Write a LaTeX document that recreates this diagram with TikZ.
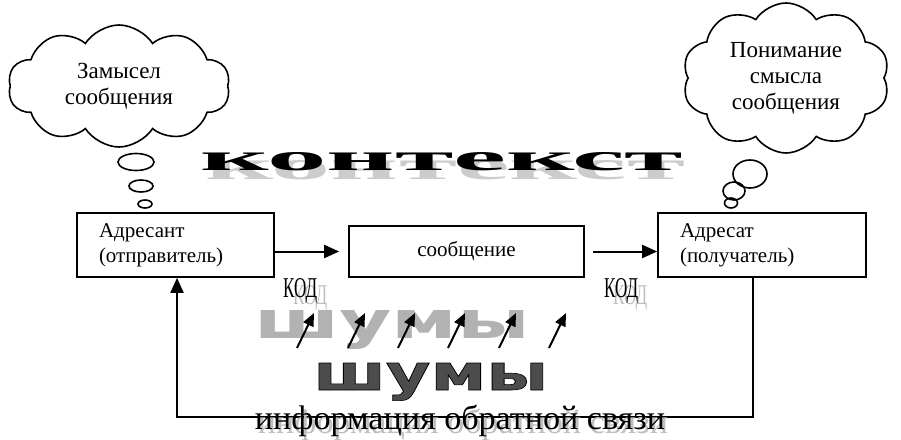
\documentclass[tikz,border=0pt]{standalone}
\usepackage{fontspec}
\setmainfont{Liberation Serif}
\newfontfamily\noisefont{DejaVu Sans}
\usetikzlibrary{shapes.symbols,shapes.geometric,arrows.meta}
\newcommand{\outlinedtext}[1]{\special{pdf:literal direct 2 Tr 0 G 0.12 w}#1\special{pdf:literal direct 0 Tr}}
\tikzset{
  box/.style={draw, line width=1.7pt, minimum height=64pt, inner sep=0pt, font=\fontsize{21}{25}\selectfont},
  thought/.style={cloud, draw, line width=1.6pt, cloud puffs=10, cloud puff arc=115, cloud ignores aspect, align=center, inner sep=0pt, font=\fontsize{23}{26}\selectfont},
  bubble/.style={ellipse, draw, line width=1.6pt, inner sep=0pt},
  flow/.style={line width=2pt, -{Triangle[length=15pt,width=13pt]}},
  noise/.style={line width=2pt, -{Triangle[length=13pt,width=11pt]}},
  shade/.style={text=gray!50},
}
\begin{document}
\begin{tikzpicture}[x=1pt,y=-1pt]
\useasboundingbox (0,0) rectangle (901,439);
% clouds
\node[thought, minimum width=222pt, minimum height=122pt] (c1) at (119,86) {Замысел\\сообщения};
\node[thought, minimum width=207pt, minimum height=150pt] (c2) at (786,78) {Понимание\\смысла\\сообщения};
\node[bubble, minimum width=36pt, minimum height=17pt] (b1) at (136,162) {};
\node[bubble, minimum width=24pt, minimum height=12pt] (b2) at (141,186) {};
\node[bubble, minimum width=14pt, minimum height=8pt] (b3) at (145,204) {};
\node[bubble, minimum width=34pt, minimum height=28pt] (b4) at (750,174) {};
\node[bubble, minimum width=22pt, minimum height=18pt] (b5) at (734,191) {};
\node[bubble, minimum width=13pt, minimum height=10pt] (b6) at (731,203) {};
% context
\node[text=gray!40, anchor=base west, inner sep=0pt] (ctxs) at (205,179) {\resizebox{480pt}{19pt}{\bfseries контекст}};
\node[anchor=base west, inner sep=0pt] (ctx) at (200,170) {\resizebox{483pt}{18pt}{\bfseries контекст}};
% boxes
\node[box, minimum width=197pt, text width=153pt, align=left] (lbox) at (175.5,245) {Адресант\\(отправитель)};
\node[box, minimum width=235pt, minimum height=51pt, align=center] (mbox) at (466.5,251.5) {сообщение};
\node[box, minimum width=208pt, text width=164pt, align=left] (rbox) at (762,245) {Адресат\\(получатель)};
\draw[flow, shorten >=9pt] (lbox.east |- mbox.west) -- (mbox.west);
\draw[flow, shorten <=8pt] (mbox.east) -- (rbox.west |- mbox.east);
% code labels
\node[shade, anchor=base west, inner sep=0pt] (k1s) at (293,304) {\resizebox{34pt}{19pt}{КОД}};
\node[anchor=base west, inner sep=0pt] (k1) at (283,297) {\resizebox{34pt}{19pt}{КОД}};
\node[shade, anchor=base west, inner sep=0pt] (k2s) at (613,304) {\resizebox{34pt}{19pt}{КОД}};
\node[anchor=base west, inner sep=0pt] (k2) at (604,297) {\resizebox{34pt}{19pt}{КОД}};
% noise
\node[text=gray!60, anchor=base west, inner sep=0pt] (n1) at (254,338) {\resizebox{276pt}{28pt}{\noisefont\bfseries шумы}};
\node[text=black!70, anchor=base west, inner sep=0pt] (n2) at (313,390) {\resizebox{235pt}{27pt}{\outlinedtext{\noisefont\bfseries шумы}}};
\foreach \i/\x in {1/297,2/348,3/398,4/448,5/499,6/549}{
  \coordinate (ns\i) at (\x,348);
  \coordinate (ne\i) at (\x+17,313);
  \draw[noise] (ns\i) -- (ne\i);
}
% feedback
\coordinate (fbR) at (753,417);
\coordinate (fbL) at (177,417);
\draw[flow] (rbox.south -| fbR) -- (fbR) -- (fbL) -- (lbox.south -| fbL);
\node[shade, anchor=base, inner sep=0pt] (fbts) at (463,433) {\resizebox{410pt}{!}{информация обратной связи}};
\node[anchor=base, inner sep=0pt] (fbt) at (460,429) {\resizebox{410pt}{!}{информация обратной связи}};
\end{tikzpicture}
\end{document}
